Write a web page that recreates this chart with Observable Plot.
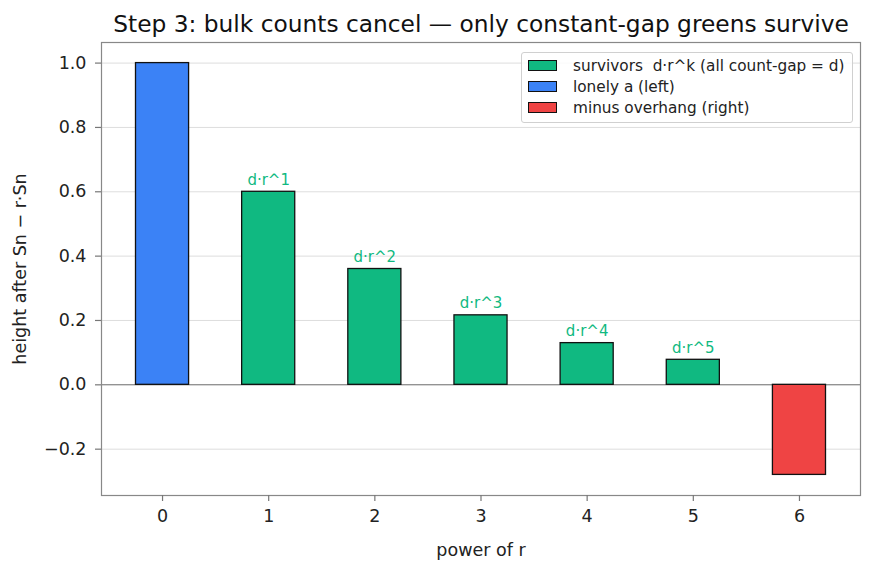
<!DOCTYPE html>
<html>
<head>
<meta charset="utf-8">
<script src="https://cdn.jsdelivr.net/npm/d3@7"></script>
<script src="https://cdn.jsdelivr.net/npm/@observablehq/plot@0.6"></script>
<style>
  html, body { margin: 0; padding: 0; background: #fff; }
  #wrap { position: relative; width: 875px; height: 569px; font-family: "DejaVu Sans", sans-serif; }
  #legend {
    position: absolute; left: 521px; top: 52px; width: 332px; height: 71px;
    border: 1px solid #d0d0d0; border-radius: 3px; background: rgba(255,255,255,0.85);
    padding: 2px 0 0 6px; box-sizing: border-box; font-size: 15.3px; color: #222;
  }
  #legend .row { display: flex; align-items: center; height: 21px; white-space: pre; }
  #legend .sw { width: 29px; height: 11px; border: 1.3px solid #111; margin-right: 16px; box-sizing: border-box; flex: none; }
</style>
</head>
<body>
<div id="wrap"></div>
<script>
// Heights left after subtracting r·Sn from Sn, by power of r
const powers  = [0, 1, 2, 3, 4, 5, 6];
const heights = [1.0, 0.6, 0.36, 0.216, 0.1296, 0.07776, -0.28];
const roles   = ["lonely", "survivor", "survivor", "survivor", "survivor", "survivor", "overhang"];
const barLabels = ["", "d·r^1", "d·r^2", "d·r^3", "d·r^4", "d·r^5", ""];
const yTicks  = [-0.2, 0.0, 0.2, 0.4, 0.6, 0.8, 1.0];

const legendItems = [
  {role: "survivor", text: "survivors  d·r^k (all count-gap = d)"},
  {role: "lonely",   text: "lonely a (left)"},
  {role: "overhang", text: "minus overhang (right)"}
];

const roleColor = {survivor: "#10b981", lonely: "#3b82f6", overhang: "#ef4444"};
const halfWidth = 0.25;

const bars = powers.map((k, i) => ({k, v: heights[i], role: roles[i], label: barLabels[i]}));

const chart = Plot.plot({
  width: 875,
  height: 569,
  marginLeft: 101,
  marginRight: 15,
  marginTop: 42,
  marginBottom: 74,
  style: {fontFamily: "DejaVu Sans, sans-serif", fontSize: "17.5px", color: "#222", background: "#fff"},
  x: {type: "linear", domain: [-0.575, 6.575]},
  y: {domain: [-0.344, 1.064]},
  marks: [
    Plot.gridY(yTicks, {stroke: "#d4d4d4", strokeOpacity: 1, strokeWidth: 0.8}),
    Plot.ruleY([0], {stroke: "#777", strokeWidth: 1.1}),
    Plot.rectY(bars, {
      x1: d => d.k - halfWidth,
      x2: d => d.k + halfWidth,
      y1: 0,
      y2: "v",
      fill: d => roleColor[d.role],
      stroke: "#111",
      strokeWidth: 1.3
    }),
    Plot.text(bars.filter(d => d.role === "survivor"), {
      x: "k", y: "v", text: "label", dy: -12,
      fill: "#10b981", fontSize: 15
    }),
    Plot.frame({stroke: "#888", strokeWidth: 1.2}),
    Plot.axisY(yTicks, {
      tickFormat: d3.format(".1f"), tickSize: 6, tickPadding: 9, stroke: "#777", strokeWidth: 1.2,
      label: "height after Sn − r·Sn", labelAnchor: "center", labelArrow: "none", labelOffset: 88,
      fontSize: 17.5
    }),
    Plot.axisX(powers, {
      tickFormat: d => String(d), tickSize: 6, tickPadding: 8, stroke: "#777", strokeWidth: 1.2,
      label: "power of r", labelAnchor: "center", labelArrow: "none", labelOffset: 60,
      fontSize: 17.5
    }),
    Plot.text(["Step 3: bulk counts cancel — only constant-gap greens survive"], {
      frameAnchor: "top", lineAnchor: "middle", dy: -18, fontSize: 23.3, fill: "#111"
    })
  ]
});

const wrap = document.getElementById("wrap");
wrap.appendChild(chart);

const legend = document.createElement("div");
legend.id = "legend";
for (const item of legendItems) {
  const row = document.createElement("div");
  row.className = "row";
  const sw = document.createElement("div");
  sw.className = "sw";
  sw.style.background = roleColor[item.role];
  const label = document.createElement("span");
  label.textContent = item.text;
  row.append(sw, label);
  legend.appendChild(row);
}
wrap.appendChild(legend);
</script>
</body>
</html>
